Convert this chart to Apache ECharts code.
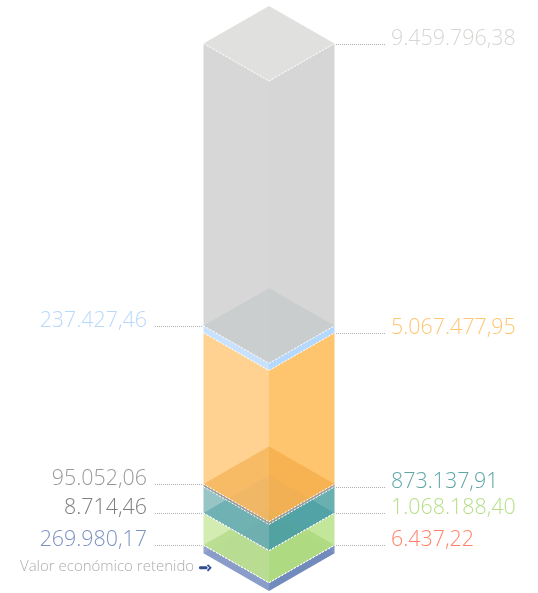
<!DOCTYPE html>
<html><head><meta charset="utf-8">
<style>html,body{margin:0;padding:0;background:#fff}#c{width:538px;height:593px}</style>
<script src="https://cdn.jsdelivr.net/npm/echarts@6/dist/echarts.min.js"></script>
</head><body><div id="c"></div>
<script>
// bottom to top
const layerValues = [269980.17, 6437.22, 1068188.40, 8714.46, 873137.91, 95052.06, 5067477.95, 237427.46, 9459796.38];
const layerLabels = ['269.980,17','6.437,22','1.068.188,40','8.714,46','873.137,91','95.052,06','5.067.477,95','237.427,46','9.459.796,38'];
const labelSides  = ['left','right','right','left','right','left','right','left','right'];
const labelColors = ['#7C92C2','#FF846A','#B6DF88','#7E7E7C','#5FA6A6','#9A9A98','#FFC672','#B8D8FA','#D6D6D4'];
const leftFaces   = ['#94A6CE','#FF937C','#D2ECB2','#8A8A8A','#97C5C6','#A0A09E','#FFD291','#C8E1FC','#D7D7D7'];
const rightFaces  = ['#7A92C2','#FF937C','#C3E79A','#8A8A8A','#6BB0B1','#A0A09E','#FFC46E','#B5D8FE','#D6D6D6'];
const floorColors = ['rgba(60,90,160,0.10)','rgba(0,0,0,0)','rgba(136,196,80,0.29)','rgba(0,0,0,0)','rgba(32,140,144,0.30)','rgba(0,0,0,0)','rgba(238,155,42,0.40)','rgba(0,0,0,0)','rgba(176,190,190,0.30)'];
const roofColor = '#E0E0DE';
const noteText = 'Valor económico retenido';

const DY = 37.6;           // half height of the isometric diamond, px
const total = layerValues.reduce((a,b)=>a+b,0);
let run = 0;
const stacked = layerValues.map((v,i)=>{ const lo=run; run+=v; return [lo,run,i]; });

function corners(api,v){
  const l=api.coord([-1,v]), c=api.coord([0,v]), r=api.coord([1,v]);
  return {l,c,r,f:[c[0],c[1]+DY],b:[c[0],c[1]-DY]};
}
const base = {type:'custom',coordinateSystem:'cartesian2d',data:stacked,silent:true,animation:false,clip:false,
  encode:{x:-1,y:[0,1]}};

// each layer: its two faces, then its translucent floor; the next layer up paints over the floor's apex
function body(p,api){
  const i=api.value(2), a=corners(api,api.value(0)), t=corners(api,api.value(1));
  return {type:'group',children:[
    {type:'polygon',shape:{points:[a.l,a.f,t.f,t.l]},style:{fill:leftFaces[i]}},
    {type:'polygon',shape:{points:[a.f,a.r,t.r,t.f]},style:{fill:rightFaces[i]}},
    {type:'polygon',shape:{points:[a.l,a.f,a.r,a.b]},style:{fill:floorColors[i]}}
  ]};
}
function ghost(p,api){
  const i=api.value(2), a=corners(api,api.value(0));
  return {type:'polygon',shape:{points:[a.l,a.f,a.r,a.b]},style:{fill:floorColors[i],opacity:0.1}};
}
function roof(p,api){
  const i=api.value(2);
  if(i!==layerValues.length-1) return null;
  const t=corners(api,api.value(1));
  return {type:'polygon',shape:{points:[t.l,t.f,t.r,t.b]},style:{fill:roofColor}};
}
function edges(p,api){
  const t=corners(api,api.value(1));
  return {type:'polyline',shape:{points:[t.l,t.f,t.r]},
    style:{fill:null,stroke:'#ffffff',lineWidth:1,lineDash:[2,1.6]}};
}
function labels(p,api){
  const i=api.value(2), t=corners(api,api.value(1)), left=labelSides[i]==='left';
  const y=Math.round(t.l[1])+0.5;
  const x0=left?155:336, x1=left?203:385;
  return {type:'group',children:[
    {type:'line',shape:{x1:x0,y1:y,x2:x1,y2:y},style:{stroke:'#B0B0B0',lineWidth:1,lineDash:[1,1]}},
    {type:'text',style:{x:left?147:391,y:y-6,text:layerLabels[i],fill:labelColors[i],
      align:left?'right':'left',verticalAlign:'middle',
      font:'300 21.4px "Open Sans", sans-serif'}}
  ]};
}

const chart = echarts.init(document.getElementById('c'),null,{renderer:'canvas'});
chart.setOption({
  backgroundColor:'#ffffff',
  animation:false,
  tooltip:{show:false},
  grid:{left:203.5,width:131,top:43.5,height:509.8,containLabel:false},
  xAxis:{type:'value',min:-1,max:1,show:false},
  yAxis:{type:'value',min:0,max:total,show:false},
  series:[
    {...base,name:'body',z:2,renderItem:body},
    {...base,name:'ghost',z:3,renderItem:ghost},
    {...base,name:'roof',z:4,renderItem:roof},
    {...base,name:'edges',z:5,renderItem:edges},
    {...base,name:'labels',z:6,renderItem:labels}
  ],
  graphic:[
    {type:'text',left:20,top:559.5,silent:true,style:{text:noteText,fill:'#ADADAD',font:'300 15px "Open Sans", sans-serif'}},
    {type:'rect',silent:true,shape:{x:199,y:566.2,width:8.5,height:3,r:1.2},style:{fill:'#2F4E96'}},
    {type:'polyline',silent:true,shape:{points:[[207.5,564.8],[210.5,567.7],[207.5,570.8]]},style:{fill:null,stroke:'#2F4E96',lineWidth:1.8}}
  ]
});
</script></body></html>
